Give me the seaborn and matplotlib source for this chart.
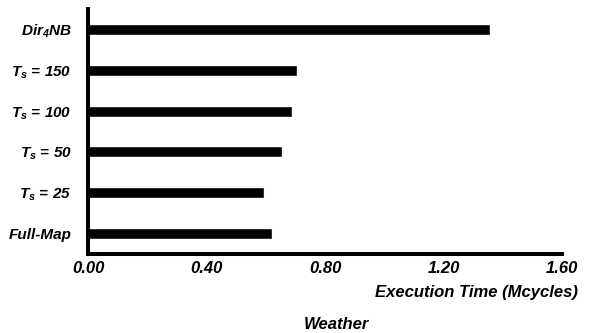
import matplotlib
matplotlib.use("Agg")
import matplotlib.pyplot as plt
import pandas as pd
import seaborn as sns

configs = ["$Dir_4$NB", "$T_s$ = 150", "$T_s$ = 100", "$T_s$ = 50", "$T_s$ = 25", "Full-Map"]
exec_time = [1.357, 0.704, 0.689, 0.654, 0.595, 0.621]
xticks = [0.0, 0.4, 0.8, 1.2, 1.6]

sns.set_style("white")
plt.rcParams['font.family'] = ['Liberation Sans', 'DejaVu Sans']
plt.rcParams['font.weight'] = 'bold'
plt.rcParams['font.style'] = 'italic'
plt.rcParams['text.color'] = 'black'
plt.rcParams['xtick.color'] = 'black'
plt.rcParams['ytick.color'] = 'black'
plt.rcParams['mathtext.fontset'] = 'custom'
plt.rcParams['mathtext.rm'] = 'Liberation Sans:italic:bold'
plt.rcParams['mathtext.it'] = 'Liberation Sans:italic:bold'
plt.rcParams['mathtext.bf'] = 'Liberation Sans:italic:bold'

df = pd.DataFrame({"config": configs, "time": exec_time})

fig = plt.figure(figsize=(6, 3.33), dpi=100)
ax = fig.add_axes([0.147, 0.237, 0.79, 0.736])
sns.barplot(data=df, y="config", x="time", order=configs, color="black",
            width=0.27, orient="h", ax=ax, saturation=1)

ax.set_xlim(0, 1.6)
ax.set_ylim(5.5, -0.5)
ax.set_xticks(xticks)
ax.set_xticklabels([f"{t:.2f}" for t in xticks], fontsize=12,
                   fontweight='bold', fontstyle='italic', color='black')
ax.set_yticklabels(configs, fontsize=11, fontweight='bold', fontstyle='italic',
                   color='black')
ax.tick_params(axis='x', direction='in', length=7, width=1.2, color='black', pad=5)
ax.tick_params(axis='y', length=0, pad=12)

for side in ['top', 'right']:
    ax.spines[side].set_visible(False)
for side in ['left', 'bottom']:
    ax.spines[side].set_linewidth(2.9)
    ax.spines[side].set_color('black')

ax.set_ylabel("")
ax.set_xlabel("")
fig.text(0.963, 0.123, "Execution Time (Mcycles)", ha='right', va='center',
         fontsize=12, fontweight='bold', fontstyle='italic', color='black')
fig.text(0.56, 0.027, "Weather", ha='center', va='center',
         fontsize=12, fontweight='bold', fontstyle='italic', color='black')

fig.savefig("out.png", dpi=100)
